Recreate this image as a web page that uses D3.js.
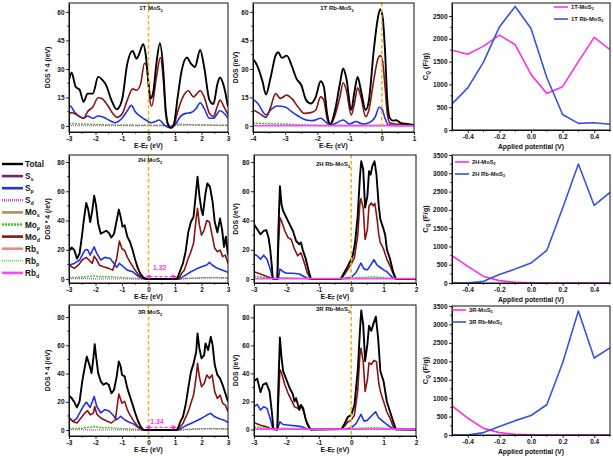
<!DOCTYPE html>
<html><head><meta charset="utf-8">
<script src="https://cdn.jsdelivr.net/npm/d3@7"></script>
<style>
body{margin:0;background:#fff}
svg{display:block}
text{font-family:"Liberation Sans",Arial,sans-serif;font-weight:bold;fill:#111}
</style>
</head><body><script>
// ---------------- DATA ----------------
// 1T MoS2 (E-EF, DOS)
const total1T=[[-3,24],[-2.9,28],[-2.75,20.6],[-2.6,19],[-2.45,12.7],[-2.3,17],[-2.1,17],[-1.9,25.8],[-1.75,24.4],[-1.6,21.5],[-1.4,13.6],[-1.2,8.7],[-1,13.6],[-0.8,32.8],[-0.6,39.4],[-0.45,35.4],[-0.35,38],[-0.2,43],[-0.1,37],[0,22],[0.08,14.5],[0.18,18],[0.3,33],[0.43,43.5],[0.55,31],[0.65,8.4],[0.75,0.5],[0.85,-0.9],[0.95,0.5],[1.1,15],[1.25,29],[1.45,36],[1.6,32.8],[1.75,31],[1.95,40],[2.1,31],[2.3,13.6],[2.45,11.5],[2.6,22],[2.7,25.5],[2.85,20.6],[3,10]];
const mod1T=[[-3,6.3],[-2.9,7],[-2.7,5.8],[-2.45,4],[-2.3,7.5],[-2.1,10],[-1.9,14.8],[-1.75,14.3],[-1.55,11],[-1.35,6.6],[-1.2,4.5],[-1,6.3],[-0.8,13.6],[-0.6,19.5],[-0.45,18.8],[-0.3,22],[-0.15,33],[-0.05,31],[0.05,13.6],[0.12,10.5],[0.3,25.8],[0.45,36],[0.55,25.8],[0.65,6.6],[0.75,0],[0.85,-1.2],[0.95,0],[1.1,7.5],[1.3,15.3],[1.5,18.5],[1.7,15.3],[1.95,18.5],[2.1,15.3],[2.3,6.6],[2.45,4.9],[2.6,10.5],[2.7,13.6],[2.85,10],[3,5.8]];
const sp1T=[[-3,9.2],[-2.95,10.5],[-2.8,7.5],[-2.6,4.9],[-2.45,4],[-2.3,5.2],[-2.1,4],[-1.9,5.2],[-1.7,4.5],[-1.5,3.1],[-1.25,1.7],[-1,4],[-0.8,8],[-0.65,10.8],[-0.5,7.5],[-0.3,4.9],[-0.1,3.1],[0.1,1.7],[0.25,2.3],[0.4,3.1],[0.6,0.5],[0.8,-1],[1,0.5],[1.2,4.9],[1.4,6.6],[1.6,7],[1.8,9.2],[1.95,12.2],[2.1,9.2],[2.3,4],[2.45,4],[2.7,8],[3,4]];
const mop1T=[[-3,1.2],[-2.5,1],[-2,0.8],[-1.5,0.6],[-1,0.5],[-0.5,0.4],[0,0.3],[0.5,0.2],[0.8,0],[1,0.3],[1.5,0.5],[2,0.5],[2.5,0.4],[3,0.3]];
const sd1T=[[-3,0.2],[-1,0.2],[0,0.2],[0.8,0.3],[1.1,1],[1.4,0.8],[2,0.5],[3,0.2]];
// 1T Rb-MoS2
const total1TRb=[[-4,35.3],[-3.85,31],[-3.7,23.1],[-3.6,16.5],[-3.45,25.7],[-3.3,37],[-3.22,38.8],[-3.1,35.8],[-2.95,37],[-2.8,31.8],[-2.65,24.9],[-2.5,21.4],[-2.35,13.6],[-2.2,11.8],[-2.05,15.3],[-1.9,23.5],[-1.8,20.6],[-1.7,6.6],[-1.6,1],[-1.45,8.4],[-1.3,22.3],[-1.2,30.2],[-1.1,25],[-0.95,8.4],[-0.85,18],[-0.75,25.8],[-0.65,18.8],[-0.5,8.4],[-0.4,13.6],[-0.25,39.7],[-0.12,57],[-0.05,61.5],[0.02,58],[0.1,39.7],[0.17,13.6],[0.25,4],[0.35,2.8],[0.45,3],[0.6,1.4],[0.8,1],[1,0.5]];
const mod1TRb=[[-4,8.4],[-3.8,6.6],[-3.6,4.5],[-3.45,10],[-3.3,17],[-3.15,14.5],[-2.95,16.2],[-2.8,14.5],[-2.6,10],[-2.4,6.6],[-2.2,7],[-2.05,8.4],[-1.9,15.3],[-1.8,13.6],[-1.7,4],[-1.6,0.5],[-1.45,5.8],[-1.3,15.3],[-1.2,22.7],[-1.1,18.8],[-0.95,5.8],[-0.85,11.8],[-0.75,20],[-0.65,15.3],[-0.5,4.9],[-0.4,8.4],[-0.25,24],[-0.12,35.4],[-0.05,37],[0.02,34.5],[0.1,20.6],[0.17,6.6],[0.25,1.7],[0.4,1],[1,0.5]];
const sp1TRb=[[-4,14],[-3.85,11.8],[-3.6,5.8],[-3.45,8.4],[-3.25,10.5],[-3,10],[-2.8,7.5],[-2.6,5.2],[-2.35,3.1],[-2.15,2.8],[-1.9,4],[-1.75,2.3],[-1.6,0.3],[-1.4,1.7],[-1.2,3.1],[-1,1],[-0.8,2.3],[-0.6,1],[-0.4,1.7],[-0.2,4.9],[-0.08,9.8],[0.02,8.4],[0.1,4],[0.2,0.7],[0.4,0.3],[1,0.2]];
const mop1TRb=[[-4,1.5],[-3.5,1.2],[-3,1],[-2.5,0.6],[-2,0.3],[-1.5,0.2],[0,0.2],[1,0.2]];
const rbd1TRb=[[-4,0.2],[1,0.2]];
// 2H MoS2
const total2H=[[-3,22],[-2.95,20],[-2.9,21.6],[-2.8,19.8],[-2.7,14],[-2.6,17.5],[-2.5,31],[-2.45,39],[-2.35,52],[-2.28,48],[-2.2,39],[-2.12,47],[-2.05,57],[-1.98,50.5],[-1.9,38],[-1.8,31],[-1.7,32],[-1.6,33],[-1.5,31.6],[-1.4,28.4],[-1.3,31],[-1.2,40],[-1.12,47.5],[-1.05,42.5],[-0.98,35.7],[-0.9,36.8],[-0.8,29],[-0.7,25.5],[-0.6,19.8],[-0.5,13],[-0.4,7.3],[-0.3,3.4],[-0.2,1.1],[-0.1,0.2],[0,0],[1.05,0],[1.1,1],[1.2,6],[1.3,10.7],[1.4,18.7],[1.5,32],[1.6,39],[1.7,42.6],[1.78,57],[1.85,70],[1.92,57],[2,47],[2.05,43.7],[2.15,58.5],[2.22,65.4],[2.32,63],[2.42,52.8],[2.5,39],[2.6,32],[2.7,41.5],[2.78,33.5],[2.85,22],[2.92,29],[3,16.4]];
const mod2H=[[-3,9.5],[-2.9,8.4],[-2.8,7.3],[-2.65,9.5],[-2.5,13],[-2.35,14.8],[-2.25,13],[-2.12,10.7],[-2.05,15.7],[-1.95,13],[-1.85,9.5],[-1.7,8.4],[-1.5,7.3],[-1.35,6.1],[-1.2,14],[-1.1,26],[-1,20.7],[-0.9,19.5],[-0.8,15],[-0.7,11.8],[-0.55,7.3],[-0.4,3.4],[-0.25,0.9],[-0.1,0],[1.1,0],[1.15,0.5],[1.25,3.9],[1.35,6],[1.5,14],[1.6,18.7],[1.7,24.4],[1.8,41.5],[1.85,48.3],[1.92,37],[2,30],[2.1,33.5],[2.2,40],[2.3,39],[2.4,30],[2.5,21],[2.6,18.7],[2.7,19.8],[2.8,15.3],[2.9,16.4],[3,10.7]];
const sp2H=[[-3,9.5],[-2.8,10.7],[-2.6,13],[-2.4,19.8],[-2.3,20.2],[-2.2,16.4],[-2.05,22],[-1.95,17.5],[-1.8,13],[-1.65,14.8],[-1.45,14],[-1.3,10.7],[-1.2,8],[-1.1,10.7],[-0.95,8.4],[-0.8,6.1],[-0.6,5],[-0.4,2],[-0.25,0.5],[-0.1,0],[1.15,0],[1.2,0.5],[1.4,2.7],[1.6,5],[1.8,6.8],[2,8.4],[2.2,9.6],[2.3,11.4],[2.4,9.6],[2.6,7.3],[2.8,6],[3,4.6]];
const mop2H=[[-3,1],[-2.5,1.2],[-2.1,2.2],[-1.8,1.5],[-1.5,1.6],[-1,1],[-0.5,0.5],[-0.2,0],[1.1,0],[1.5,0.5],[2,0.8],[2.5,1],[3,0.8]];
const sd2H=[[-3,0.3],[-0.2,0],[1.1,0],[2,0.8],[2.5,1],[3,0.5]];
// 2H Rb-MoS2
const total2HRb=[[-3,37.4],[-2.9,34],[-2.8,30.6],[-2.7,32.9],[-2.62,33.5],[-2.55,28.3],[-2.5,20.4],[-2.45,9],[-2.42,0],[-2.28,0],[-2.25,31.7],[-2.2,63.5],[-2.15,51],[-2.1,46.5],[-2,42],[-1.9,37.4],[-1.8,33],[-1.7,26],[-1.6,23.8],[-1.55,25],[-1.5,20.4],[-1.4,13.6],[-1.3,4.5],[-1.25,0.5],[-1.2,0],[-0.35,0],[-0.3,1],[-0.2,5],[-0.1,9],[0,13.6],[0.05,16.3],[0.12,25],[0.2,43],[0.27,70],[0.31,80.5],[0.37,75],[0.43,48.8],[0.5,56.7],[0.55,73.7],[0.6,71.4],[0.65,77],[0.72,80.5],[0.78,71.4],[0.85,50],[0.9,40.8],[1,34],[1.05,30],[1.1,20.4],[1.2,13.6],[1.3,4.5],[1.38,0],[2,0]];
const mod2HRb=[[-3,5],[-2.8,3.4],[-2.6,1.8],[-2.45,0.5],[-2.28,0],[-2.25,20],[-2.2,42],[-2.15,39.7],[-2.05,33],[-1.95,28.3],[-1.85,27],[-1.75,20.4],[-1.65,15.9],[-1.55,18],[-1.45,11.3],[-1.35,4],[-1.25,0],[-0.3,0.3],[-0.2,3.4],[-0.1,6.8],[0,10.2],[0.1,14.7],[0.2,29.5],[0.27,52],[0.3,55],[0.37,48.8],[0.43,27],[0.5,34],[0.55,50],[0.62,52],[0.68,50],[0.73,51.7],[0.8,40.8],[0.85,30.6],[0.9,24.9],[1,20.4],[1.1,13.6],[1.2,9],[1.3,3.4],[1.38,0],[2,0]];
const sp2HRb=[[-3,17],[-2.9,15.9],[-2.8,13.6],[-2.7,16.3],[-2.6,13.6],[-2.5,6.8],[-2.42,0.5],[-2.25,0],[-2.2,6.8],[-2.1,5],[-2,4],[-1.8,4],[-1.6,3.4],[-1.4,1.1],[-1.3,0],[-0.3,0],[-0.2,0.5],[0,1.1],[0.15,4.5],[0.3,10.9],[0.4,6.8],[0.5,6.3],[0.6,9.5],[0.7,13.2],[0.8,9.5],[0.9,7.9],[1,6.3],[1.1,5],[1.2,2.7],[1.3,0.5],[1.4,0],[2,0]];
const mop2HRb=[[-3,2],[-2.8,1.5],[-2.45,0.5],[-2.3,0],[-2.2,1],[-1.5,0.5],[-1.25,0],[-0.3,0],[0,0.5],[0.3,1],[0.7,1.5],[1,1],[1.3,0.3],[1.4,0],[2,0]];
const rbd2HRb=[[-3,0.3],[2,0.3]];
// 3R MoS2
const total3R=[[-3,24.5],[-2.9,22.6],[-2.8,19.8],[-2.7,16],[-2.6,20.3],[-2.5,34.4],[-2.4,45],[-2.33,52],[-2.25,47.4],[-2.15,40.3],[-2.08,51],[-2.03,60.8],[-1.97,51],[-1.9,40.3],[-1.8,34.4],[-1.7,32],[-1.6,33.3],[-1.5,32],[-1.4,26],[-1.3,28.5],[-1.2,38],[-1.12,48.6],[-1.05,45],[-1,39],[-0.9,38],[-0.8,29.7],[-0.7,23.8],[-0.6,18],[-0.5,12],[-0.4,6.6],[-0.3,2.6],[-0.2,0.2],[0,0],[1.05,0],[1.1,0.7],[1.2,5.9],[1.3,9.4],[1.4,17.7],[1.5,29.5],[1.6,41],[1.7,47],[1.8,55.4],[1.85,68.4],[1.92,57.8],[2,50.7],[2.1,53],[2.15,61.3],[2.25,56.6],[2.35,66],[2.42,60],[2.5,46],[2.6,39],[2.7,36.6],[2.8,31.8],[2.9,26],[3,20]];
const mod3R=[[-3,8.5],[-2.85,6.1],[-2.7,5],[-2.55,8.5],[-2.4,12],[-2.3,13.7],[-2.2,10.8],[-2.08,12],[-2.03,16.7],[-1.95,11.3],[-1.8,8.5],[-1.6,6.6],[-1.4,5],[-1.25,7.3],[-1.12,25.5],[-1,19],[-0.9,20.3],[-0.8,14.4],[-0.7,10.8],[-0.55,6.1],[-0.4,2.6],[-0.25,0.5],[-0.1,0],[1.1,0],[1.15,1.2],[1.3,4.7],[1.5,13],[1.6,18.9],[1.7,24.8],[1.8,37.7],[1.85,47.2],[1.92,37.7],[2,30.7],[2.1,33],[2.2,39],[2.3,36.6],[2.4,39],[2.5,27],[2.6,22.4],[2.7,24.8],[2.8,18.9],[2.9,17.7],[3,13]];
const sp3R=[[-3,9],[-2.85,6.1],[-2.7,8.5],[-2.5,15.6],[-2.35,19.8],[-2.2,16],[-2.05,23.8],[-1.95,16.7],[-1.8,12.1],[-1.65,14.4],[-1.5,13.7],[-1.35,10.8],[-1.2,7.3],[-1.05,9.7],[-0.9,7.3],[-0.75,5.7],[-0.55,4.2],[-0.4,1.9],[-0.25,0.2],[-0.1,0],[1.1,0],[1.15,0.3],[1.4,3],[1.6,4.7],[1.8,6.4],[2,8.3],[2.2,10.6],[2.35,11.8],[2.5,9.4],[2.7,7.8],[2.85,7],[3,5.4]];
const mop3R=[[-3,1],[-2.5,1.3],[-2.05,2.5],[-1.8,1.6],[-1.5,1.6],[-1,1],[-0.5,0.5],[-0.2,0],[1.1,0],[1.5,0.6],[2,0.9],[2.5,1],[3,0.8]];
const sd3R=[[-3,0.3],[-0.2,0],[1.1,0],[2,0.8],[2.5,1],[3,0.5]];
// 3R Rb-MoS2
const total3RRb=[[-3,34.4],[-2.9,36.3],[-2.8,26.7],[-2.72,32],[-2.62,33.2],[-2.52,27.2],[-2.45,12.7],[-2.4,0.2],[-2.28,0],[-2.25,29.6],[-2.2,65.6],[-2.15,51.2],[-2.1,41.6],[-2,35.6],[-1.9,29.6],[-1.8,25.2],[-1.75,20],[-1.7,22.4],[-1.6,13.9],[-1.55,17.5],[-1.48,15.1],[-1.4,6.7],[-1.3,1.9],[-1.25,0],[-0.3,0.3],[-0.2,4.3],[-0.1,9.1],[0,10.3],[0.1,17.5],[0.2,41.6],[0.27,70.4],[0.31,84.9],[0.37,75],[0.43,48.8],[0.5,60.8],[0.55,74],[0.62,70.4],[0.7,76.4],[0.76,80.5],[0.83,65.6],[0.9,41.6],[1,34.4],[1.1,20],[1.2,12.7],[1.3,5.5],[1.38,0.2],[2,0]];
const mod3RRb=[[-3,5],[-2.8,3.1],[-2.6,1.9],[-2.45,0.2],[-2.28,0],[-2.25,17.5],[-2.2,42.8],[-2.15,40.4],[-2.05,32],[-1.95,26],[-1.85,21.2],[-1.75,16.3],[-1.65,15.1],[-1.55,17.5],[-1.45,11.5],[-1.35,3.1],[-1.25,0],[-0.3,0.2],[-0.2,2.6],[-0.1,5.5],[0,6.7],[0.1,10.3],[0.2,27.2],[0.27,53.6],[0.3,58],[0.37,48.8],[0.43,27.2],[0.5,35.6],[0.55,47.6],[0.62,46.4],[0.7,49.3],[0.78,48.3],[0.85,33.2],[0.9,27.2],[1,20],[1.1,12.7],[1.2,7.9],[1.3,1.9],[1.38,0],[2,0]];
const sp3RRb=[[-3,16.3],[-2.9,18],[-2.8,13.9],[-2.7,16.3],[-2.6,15.1],[-2.5,7.9],[-2.42,0.7],[-2.28,0],[-2.2,5.5],[-2.1,3.6],[-1.9,3.1],[-1.7,2.6],[-1.5,1.9],[-1.35,0.2],[-0.2,0.2],[0,1.2],[0.15,4.3],[0.3,10.8],[0.4,6],[0.5,6.7],[0.6,9.1],[0.75,12.7],[0.85,8.4],[1,5.5],[1.1,3.6],[1.2,1.9],[1.3,0.2],[2,0]];
const mop3RRb=[[-3,1.8],[-2.8,1.4],[-2.45,0.5],[-2.3,0],[-2.2,1],[-1.5,0.5],[-1.25,0],[-0.3,0],[0,0.5],[0.3,1],[0.7,1.4],[1,1],[1.3,0.3],[1.4,0],[2,0]];
const rbd3RRb=[[-3,0.3],[2,0.3]];
// Band gaps
const gap2H="1.32", gap3R="1.34";
const gapEdges=[0,1.08];
// Quantum capacitance
const cqPotential=[-0.5,-0.4,-0.3,-0.2,-0.1,0,0.1,0.2,0.3,0.4,0.5];
const cq1T=[1750,1660,1840,2080,1870,1220,800,950,1500,2030,1760];
const cq1TRb=[570,925,1495,2260,2710,2225,1150,340,145,160,125];
const cq2H=[745,455,180,65,18,5,0,0,0,0,0];
const cq2HRb=[0,0,45,230,380,545,890,2045,3255,2120,2475];
const cq3R=[790,455,180,65,18,5,0,0,0,0,0];
const cq3RRb=[0,0,65,230,390,530,820,1955,3365,2090,2365];
// Tick labels
const dosTicksRow1=[0,15,30,45,60];
const dosTicksRow23=[0,20,40,60,80];
const cqTicksRow1=[0,500,1000,1500,2000,2500];
const cqTicksRow23=[0,500,1000,1500,2000,2500,3000,3500];
const cqXTicks=[-0.4,-0.2,0.0,0.2,0.4];
const legendItems=[["Total",""],["S","s"],["S","p"],["S","d"],["Mo","s"],["Mo","p"],["Mo","d"],["Rb","s"],["Rb","p"],["Rb","d"]];

// ---------------- STYLE ----------------
const C={total:"#000",mod:"#8a1414",ss:"#7d1f62",sp:"#1f33e6",sd:"#e23fd2",mos:"#b98c55",mop:"#2fd01f",rbs:"#ef8a7a",rbp:"#66ee55",rbd:"#ff44ff",fermi:"#f5b21a",gap:"#ff33ee",cq1:"#ff2fdc",cq2:"#3653e0"};
const legendStyles=[
 {c:C.total,w:2.4},{c:C.ss,w:2.6},{c:C.sp,w:2.6},{c:C.sd,w:2.6,dash:"1,1"},{c:C.mos,w:2.6},
 {c:C.mop,w:2.6,dash:"2,1"},{c:C.mod,w:2.6},{c:C.rbs,w:2.6},{c:C.rbp,w:2,dash:"1,1"},{c:C.rbd,w:2.6}];

const svg=d3.select("body").append("svg").attr("width",613).attr("height",458);
const defs=svg.append("defs");
["s","e"].forEach(k=>{
  defs.append("marker").attr("id","arr"+k).attr("viewBox","0 0 6 6").attr("refX",k==="e"?5:1).attr("refY",3)
   .attr("markerWidth",4).attr("markerHeight",4).attr("orient","auto-start-reverse")
   .append("path").attr("d","M0,0L6,3L0,6Z").attr("fill",C.gap);
});

function rich(t,parts,fs){
  let pend=0;
  parts.forEach(([s,sub])=>{
    if(s){ const ts=t.append("tspan").text(s); if(pend){ts.attr("dy",pend);pend=0;} }
    if(sub){ t.append("tspan").attr("font-size",fs*0.65).attr("dy",fs*0.25).text(sub); pend=-fs*0.25; }
  });
  return t;
}

function frameAxes(g,x,y,p,xt,yt,xfmt,yfmt,xminor,yminor){
  const ax=g.append("g").attr("transform",`translate(0,${p.y1})`)
    .call(d3.axisBottom(x).tickValues(xt).tickFormat(xfmt).tickSize(3).tickSizeOuter(0).tickPadding(1));
  const ay=g.append("g").attr("transform",`translate(${p.x0},0)`)
    .call(d3.axisLeft(y).tickValues(yt).tickFormat(yfmt).tickSize(3).tickSizeOuter(0).tickPadding(1.5));
  [ax,ay].forEach(a=>{a.attr("font-size",6.5).attr("font-family",null);
    a.select(".domain").attr("stroke","#111").attr("stroke-width",1);
    a.selectAll(".tick line").attr("stroke","#111").attr("stroke-width",0.9);});
  xminor.forEach(v=>g.append("line").attr("x1",x(v)).attr("x2",x(v)).attr("y1",p.y1).attr("y2",p.y1+1.8).attr("stroke","#111").attr("stroke-width",0.8));
  yminor.forEach(v=>g.append("line").attr("y1",y(v)).attr("y2",y(v)).attr("x1",p.x0).attr("x2",p.x0-1.8).attr("stroke","#111").attr("stroke-width",0.8));
  g.append("rect").attr("x",p.x0).attr("y",p.y0).attr("width",p.x1-p.x0).attr("height",p.y1-p.y0)
   .attr("fill","none").attr("stroke","#111").attr("stroke-width",1);
}

const intFmt=d=>String(d);
let clipN=0;
function dosPanel(p){
  const x=d3.scaleLinear().domain(p.xd).range([p.x0,p.x1]);
  const y=d3.scaleLinear().domain(p.yd).range([p.y1,p.y0]);
  const id="clip"+(clipN++);
  defs.append("clipPath").attr("id",id).append("rect").attr("x",p.x0).attr("y",p.y0).attr("width",p.x1-p.x0).attr("height",p.y1-p.y0);
  const g=svg.append("g");
  const cg=g.append("g").attr("clip-path",`url(#${id})`);
  const line=d3.line().x(d=>x(d[0])).y(d=>y(d[1])).curve(p.smooth?d3.curveMonotoneX:d3.curveLinear);
  p.series.forEach(s=>{
    cg.append("path").datum(s.d).attr("d",line).attr("fill","none").attr("stroke",s.c)
      .attr("stroke-width",s.w).attr("stroke-dasharray",s.dash||null).attr("stroke-linejoin","round");
  });
  cg.append("line").attr("x1",x(0)).attr("x2",x(0)).attr("y1",p.y0).attr("y2",p.y1)
    .attr("stroke",C.fermi).attr("stroke-width",1.6).attr("stroke-dasharray","3.5,2.5");
  if(p.gap){
    cg.append("line").attr("x1",x(gapEdges[0])+1).attr("x2",x(gapEdges[1])-1).attr("y1",y(p.gapY)).attr("y2",y(p.gapY))
      .attr("stroke",C.gap).attr("stroke-width",1.3).attr("stroke-dasharray","3,2")
      .attr("marker-start","url(#arrs)").attr("marker-end","url(#arre)");
    g.append("text").attr("x",x(p.gapLX)).attr("y",y(p.gapLY)).attr("text-anchor","middle")
      .attr("font-size",6.8).style("fill",C.gap).text(p.gap);
  }
  frameAxes(g,x,y,p,d3.range(p.xd[0],p.xd[1]+0.01,1).map(v=>Math.round(v)),p.yt,intFmt,intFmt,
    d3.range(Math.ceil(p.xd[0])+0.5,p.xd[1],1),p.yt.slice(0,-1).map((v,i)=>(v+p.yt[i+1])/2).concat([p.yt[p.yt.length-1]+(p.yt[1]-p.yt[0])/2]).filter(v=>v<p.yd[1]));
  rich(g.append("text").attr("x",p.tx).attr("y",p.ty).attr("text-anchor","middle").attr("font-size",6),p.title,6);
  rich(g.append("text").attr("x",(p.x0+p.x1)/2).attr("y",p.y1+15.5).attr("text-anchor","middle").attr("font-size",6.8),[["E-E","F"],[" (eV)",""]],6.8);
  g.append("text").attr("transform",`translate(${p.ylx},${(p.y0+p.y1)/2}) rotate(-90)`).attr("text-anchor","middle")
    .attr("font-size",6.8).text(p.ylab);
}

function cqPanel(p){
  const x=d3.scaleLinear().domain([-0.5,0.5]).range([p.x0,p.x1]);
  const y=d3.scaleLinear().domain(p.yd).range([p.y1,p.y0]);
  const g=svg.append("g");
  const id="clip"+(clipN++);
  defs.append("clipPath").attr("id",id).append("rect").attr("x",p.x0).attr("y",p.y0-1).attr("width",p.x1-p.x0).attr("height",p.y1-p.y0+1);
  const cg=g.append("g").attr("clip-path",`url(#${id})`);
  const line=d3.line().x((d,i)=>x(cqPotential[i])).y(d=>y(d));
  [[p.a,C.cq1],[p.b,C.cq2]].forEach(([d,c])=>cg.append("path").datum(d).attr("d",line).attr("fill","none")
    .attr("stroke",c).attr("stroke-width",1.6).attr("stroke-linejoin","round"));
  const ym=p.yt.slice(0,-1).map((v,i)=>(v+p.yt[i+1])/2);
  frameAxes(g,x,y,p,cqXTicks,p.yt,d=>d.toFixed(1),intFmt,[-0.5,-0.3,-0.1,0.1,0.3,0.5],ym);
  g.append("text").attr("x",(p.x0+p.x1)/2).attr("y",p.y1+18.5).attr("text-anchor","middle").attr("font-size",6.8).text("Applied potential (V)");
  rich(g.append("text").attr("transform",`translate(428,${(p.y0+p.y1)/2}) rotate(-90)`).attr("text-anchor","middle").attr("font-size",7.5),[["C","Q"],[" (F/g)",""]],7.5);
  p.leg.forEach((L,i)=>{
    const yy=p.ly+i*12;
    g.append("line").attr("x1",p.lx).attr("x2",p.lx+14).attr("y1",yy).attr("y2",yy).attr("stroke",i?C.cq2:C.cq1).attr("stroke-width",1.6);
    rich(g.append("text").attr("x",p.lx+17).attr("y",yy+2).attr("font-size",5.8),L,5.8);
  });
}

const mk=(tot,mod,sp,mop,extra,rb)=>{
  const s=[{d:mop,c:C.mop,w:1.5,dash:"2,1"}];
  if(!rb) s.push({d:extra,c:C.sd,w:1.3,dash:"1,1"});
  s.push({d:sp,c:C.sp,w:1.6},{d:mod,c:C.mod,w:1.6},{d:tot,c:C.total,w:1.9});
  if(rb) s.push({d:extra,c:C.rbd,w:1.8});
  return s;
};

dosPanel({x0:69,x1:228,y0:3,y1:132,xd:[-3,3],yd:[-3.2,64.7],yt:dosTicksRow1,smooth:true,
  series:mk(total1T,mod1T,sp1T,mop1T,sd1T,false),title:[["1T MoS","2"]],tx:151,ty:10,ylab:"DOS * 4 (/eV)",ylx:50});
dosPanel({x0:253,x1:414,y0:3,y1:132,xd:[-4,1],yd:[-3.2,64.7],yt:dosTicksRow1,smooth:true,
  series:mk(total1TRb,mod1TRb,sp1TRb,mop1TRb,rbd1TRb,true),title:[["1T Rb-MoS","2"]],tx:337,ty:10,ylab:"DOS (/eV)",ylx:238});
dosPanel({x0:69,x1:228,y0:155,y1:283,xd:[-3,3],yd:[-2.7,84.8],yt:dosTicksRow23,smooth:false,
  series:mk(total2H,mod2H,sp2H,mop2H,sd2H,false),title:[["2H MoS","2"]],tx:150,ty:162,ylab:"DOS * 4 (/eV)",ylx:50,
  gap:gap2H,gapY:1.6,gapLX:0.42,gapLY:5.9});
dosPanel({x0:254,x1:416,y0:155,y1:283,xd:[-3,2],yd:[-2.7,84.8],yt:dosTicksRow23,smooth:false,
  series:mk(total2HRb,mod2HRb,sp2HRb,mop2HRb,rbd2HRb,true),title:[["2H Rb-MoS","2"]],tx:333,ty:166,ylab:"DOS (/eV)",ylx:238});
dosPanel({x0:69,x1:228,y0:305,y1:436,xd:[-3,3],yd:[-4.2,88.5],yt:dosTicksRow23,smooth:false,
  series:mk(total3R,mod3R,sp3R,mop3R,sd3R,false),title:[["3R MoS","2"]],tx:150,ty:314,ylab:"DOS * 4 (/eV)",ylx:50,
  gap:gap3R,gapY:1.9,gapLX:0.32,gapLY:4.2});
dosPanel({x0:254,x1:416,y0:305,y1:436,xd:[-3,2],yd:[-4.6,88.8],yt:dosTicksRow23,smooth:false,
  series:mk(total3RRb,mod3RRb,sp3RRb,mop3RRb,rbd3RRb,true),title:[["3R Rb-MoS","2"]],tx:333,ty:311,ylab:"DOS (/eV)",ylx:238});

cqPanel({x0:452,x1:610,y0:3,y1:130,yd:[0,2785],yt:cqTicksRow1,a:cq1T,b:cq1TRb,
  leg:[[["1T-MoS","2"]],[["1T Rb-MoS","2"]]],lx:554,ly:7});
cqPanel({x0:452,x1:610,y0:155,y1:283,yd:[0,3500],yt:cqTicksRow23,a:cq2H,b:cq2HRb,
  leg:[[["2H-MoS","2"]],[["2H Rb-MoS","2"]]],lx:455,ly:162});
cqPanel({x0:452,x1:610,y0:306,y1:435,yd:[0,3500],yt:cqTicksRow23,a:cq3R,b:cq3RRb,
  leg:[[["3R-MoS","2"]],[["3R Rb-MoS","2"]]],lx:452,ly:310});

// DOS legend
const lg=svg.append("g");
legendItems.forEach((it,i)=>{
  const yy=164+i*12.1, st=legendStyles[i];
  lg.append("line").attr("x1",2).attr("x2",23).attr("y1",yy).attr("y2",yy).attr("stroke",st.c).attr("stroke-width",st.w).attr("stroke-dasharray",st.dash||null);
  rich(lg.append("text").attr("x",25).attr("y",yy+3).attr("font-size",8.2),[[it[0],it[1]]],8.2);
});
</script></body></html>
